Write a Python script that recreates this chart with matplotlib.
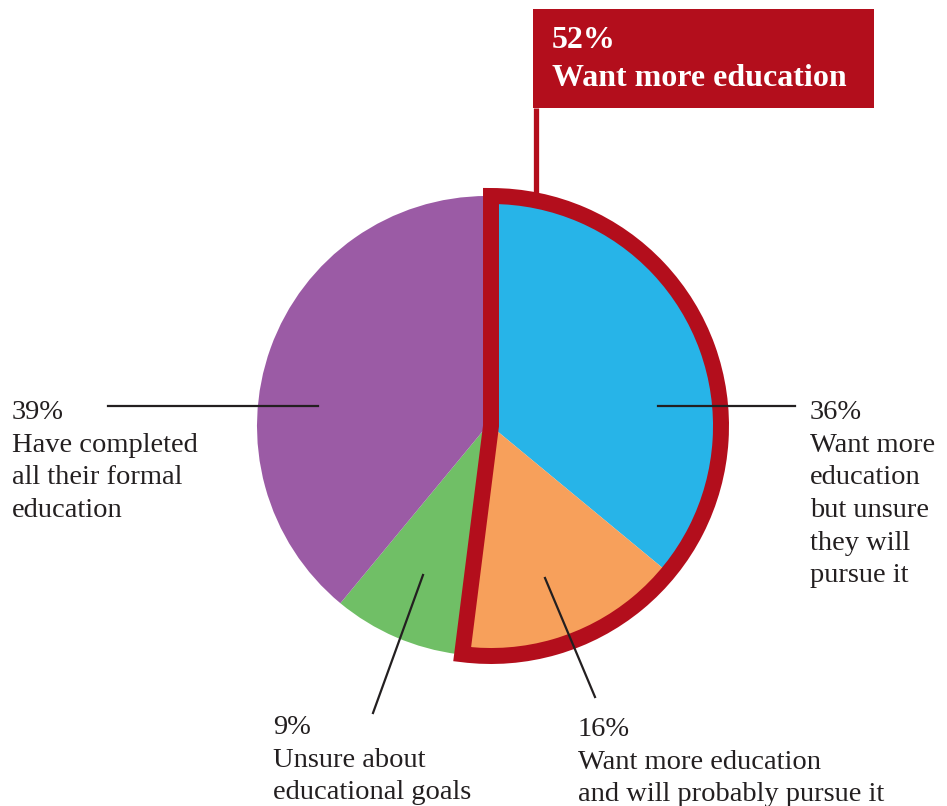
import matplotlib.pyplot as plt
from matplotlib.patches import Rectangle

# data
shares = [36, 16, 9, 39]
slice_colors = ["#27B4E8", "#F7A05B", "#70BF66", "#9B5BA5"]
highlight = [0, 1]  # slices that make up "Want more education"
pct_labels = ["36%", "16%", "9%", "39%"]
desc_labels = [
    ["Want more", "education", "but unsure", "they will", "pursue it"],
    ["Want more education", "and will probably pursue it"],
    ["Unsure about", "educational goals"],
    ["Have completed", "all their formal", "education"],
]
group_label = "Want more education"

RED = "#B30E1C"
INK = "#231F20"
W, H = 947, 806


def Y(y):
    # pixel row (from top) -> data y
    return H - y


fig = plt.figure(figsize=(W / 100, H / 100), dpi=100)
ax = fig.add_axes([0, 0, 1, 1])

cx, cy, R = 487, Y(426), 230
dx = 4

# base pie: only the slices that stay in place
base_cols = [c if i not in highlight else "none" for i, c in enumerate(slice_colors)]
ax.pie(shares, colors=base_cols, startangle=90, counterclock=False,
       radius=R, center=(cx, cy), wedgeprops=dict(linewidth=0))

# pulled-out slices
out_cols = [c if i in highlight else "none" for i, c in enumerate(slice_colors)]
ax.pie(shares, colors=out_cols, startangle=90, counterclock=False,
       radius=R, center=(cx + dx, cy), wedgeprops=dict(linewidth=0))

# stem from callout box to the outlined group
ax.plot([535.5, 535.5], [Y(108), Y(195)], color=RED, lw=3.8, solid_capstyle="butt", zorder=3)

# red outline round the grouped slices
grp = [sum(shares[i] for i in highlight), sum(shares) - sum(shares[i] for i in highlight)]
wedges, _ = ax.pie(grp, colors=["none", "none"], startangle=90, counterclock=False,
                   radius=R, center=(cx + dx, cy),
                   wedgeprops=dict(linewidth=11.5, edgecolor=RED, joinstyle="miter"))
wedges[1].set_visible(False)
wedges[0].set_zorder(4)

# callout box
ax.add_patch(Rectangle((533, Y(108)), 341, 99, facecolor=RED, edgecolor="none", zorder=3))
grp_pct = f"{grp[0]}%"
ax.text(552, Y(48), grp_pct, color="white", fontsize=23, fontweight="bold",
        family="Liberation Serif", va="baseline", zorder=5)
ax.text(552, Y(86), group_label, color="white", fontsize=23, fontweight="bold",
        family="Liberation Serif", va="baseline", zorder=5)

# leader lines
leaders = {
    0: ((658, 406), (795, 406)),
    1: ((545, 578), (595, 697)),
    2: ((423, 575), (373, 713)),
    3: ((318, 406), (108, 406)),
}
for i, ((x0, y0), (x1, y1)) in leaders.items():
    ax.plot([x0, x1], [Y(y0), Y(y1)], color=INK, lw=1.6, zorder=5)

# slice labels: x, first baseline, line step
label_pos = {0: (810, 419), 1: (578, 736), 2: (273, 734), 3: (12, 419)}
step = 32.7
for i, (x, y) in label_pos.items():
    lines = [pct_labels[i]] + desc_labels[i]
    for k, line in enumerate(lines):
        ax.text(x, Y(y + k * step), line, color=INK, fontsize=20.5,
                family="Liberation Serif", va="baseline", zorder=5)

ax.set_xlim(0, W)
ax.set_ylim(0, H)
ax.set_aspect("equal")
ax.axis("off")

fig.savefig("out.png", dpi=100)
